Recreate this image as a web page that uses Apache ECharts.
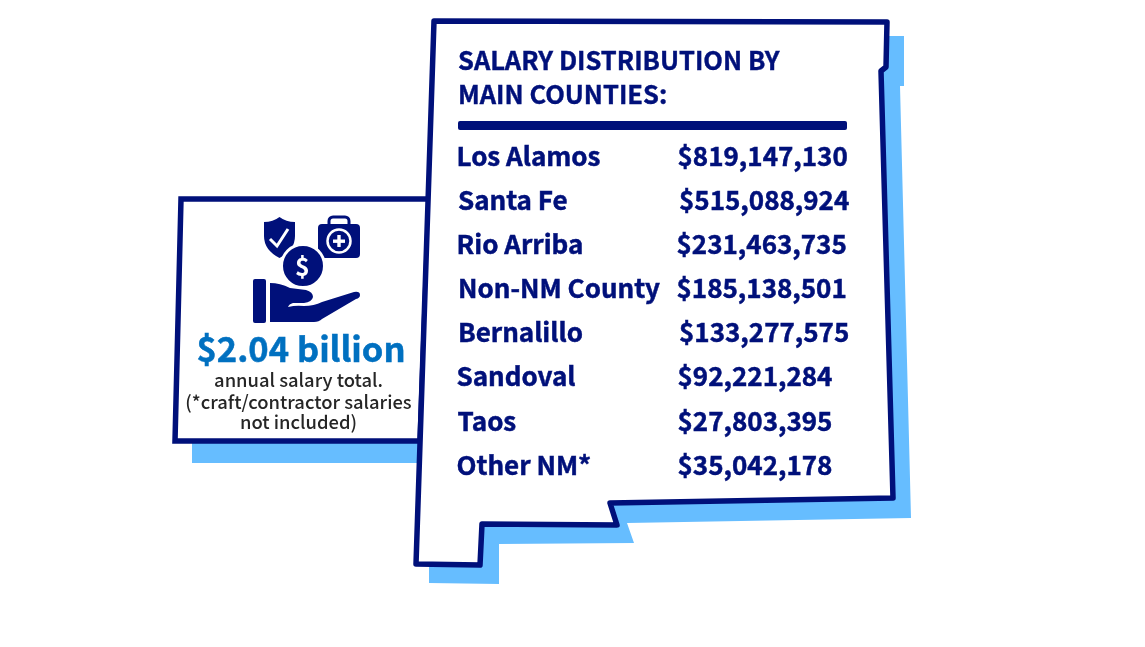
<!DOCTYPE html>
<html>
<head>
<meta charset="utf-8">
<style>
  html, body { margin: 0; padding: 0; background: #fff; }
  #chart { width: 1145px; height: 647px; }
</style>
<script src="https://cdn.jsdelivr.net/npm/echarts@6/dist/echarts.min.js"></script>
</head>
<body>
<div id="chart"></div>
<script>
// table data
const counties = ['Los Alamos', 'Santa Fe', 'Rio Arriba', 'Non-NM County', 'Bernalillo', 'Sandoval', 'Taos', 'Other NM*']
const salaries = [819147130, 515088924, 231463735, 185138501, 133277575, 92221284, 27803395, 35042178]
const titleLines = ['SALARY DISTRIBUTION BY', 'MAIN COUNTIES:']
const totalLabel = '$2.04 billion'
const noteLines = ['annual salary total.', '(*craft/contractor salaries', 'not included)']

// layout of the rows, the source artwork is slightly uneven
const rowY = [156.5, 200.5, 244.5, 288.5, 332.5, 376.5, 421.5, 465.5]
const nameX = [456.5, 458, 456.5, 458, 458, 456.5, 457.5, 456.5]
const valueX = [677.5, 679, 676.5, 676.5, 679, 677.5, 677.5, 677.5]

const NAVY = '#00107a'
const SKY = '#66bdff'
const FONT = '"Noto Sans CJK SC", "Noto Sans", sans-serif'

// state outline
const statePoints = [[434, 21], [887, 22], [886, 67], [881, 71], [893, 498], [610, 503], [617, 525],
  [482, 524], [480, 565], [416, 564]]
const stateShadow = [[860, 36], [904, 36], [904, 86], [900, 86], [911, 518], [627, 523], [634, 543],
  [499, 544], [499, 584], [429, 583], [429, 540]]

// icon outlines, the graphic component only takes registered shapes for svg paths
echarts.graphic.registerShape('shieldIcon', echarts.graphic.extendPath(
  'M264 222 Q273 222 279.5 217 Q286 222 295 222 L295 236 Q295 250 279.5 258 Q264 250 264 236 Z'))
echarts.graphic.registerShape('handIcon', echarts.graphic.extendPath(
  'M270 283 Q280 283 290 288 L306 290 Q313 292 313 297 Q312 302 304 303 L293 303 Q289 304 288 307 Q296 305 304 306 Q314 306 322 302 L354 292 Q360 291 360 295 Q360 298 356 299 L322 319 Q319 322 314 322 L270 322 Z'))

const elements = [
  // shadows first
  { type: 'polygon', z: 1, shape: { points: stateShadow }, style: { fill: SKY } },
  { type: 'rect', z: 1, shape: { x: 192, y: 430, width: 232, height: 33 }, style: { fill: SKY } },

  // side box
  { type: 'polygon', z: 2, shape: { points: [[181, 199], [429, 199], [420, 441], [175, 441]] },
    style: { fill: '#fff', stroke: NAVY, lineWidth: 5.5 } },

  // state
  { type: 'polygon', z: 3, shape: { points: statePoints },
    style: { fill: '#fff', stroke: NAVY, lineWidth: 5.5, lineJoin: 'round' } },
  { type: 'rect', z: 4, shape: { x: 458, y: 121, width: 389, height: 9, r: 2 }, style: { fill: NAVY } }
]

titleLines.forEach((line, i) => {
  elements.push({ type: 'text', z: 5, style: {
    text: line, x: 458, y: 60 + i * 34, fill: NAVY, verticalAlign: 'middle', align: 'left',
    font: `bold 25.5px ${FONT}`, stroke: NAVY, lineWidth: 0.4
  } })
})

counties.forEach((name, i) => {
  elements.push({ type: 'text', z: 5, style: {
    text: name, x: nameX[i], y: rowY[i], fill: NAVY, verticalAlign: 'middle', align: 'left',
    font: `bold 26px ${FONT}`, stroke: NAVY, lineWidth: 0.5
  } })
  elements.push({ type: 'text', z: 5, style: {
    text: '$' + salaries[i].toLocaleString('en-US'), x: valueX[i], y: rowY[i], fill: NAVY,
    verticalAlign: 'middle', align: 'left', font: `bold 26px ${FONT}`, stroke: NAVY, lineWidth: 0.5
  } })
})

// total + note
elements.push({ type: 'text', z: 5, style: {
  text: totalLabel, x: 301, y: 349, fill: '#0070c0', align: 'center', verticalAlign: 'middle',
  font: `bold 34.5px ${FONT}`, stroke: '#0070c0', lineWidth: 0.5
} })
noteLines.forEach((line, i) => {
  elements.push({ type: 'text', z: 5, style: {
    text: line, x: 298.5, y: [380, 402, 422][i], fill: '#262626', align: 'center', verticalAlign: 'middle',
    font: `500 18.4px ${FONT}`
  } })
})

// icon: shield, first aid case, coin, hand
elements.push(
  { type: 'shieldIcon', z: 5, style: { fill: NAVY } },
  { type: 'polyline', z: 6, shape: { points: [[270, 239], [277, 246], [288, 229]] },
    style: { stroke: '#fff', lineWidth: 3, fill: null } },
  { type: 'rect', z: 5, shape: { x: 329, y: 217, width: 20, height: 14, r: 4 },
    style: { fill: null, stroke: NAVY, lineWidth: 3 } },
  { type: 'rect', z: 5, shape: { x: 318, y: 224, width: 42, height: 34, r: 4 }, style: { fill: NAVY } },
  { type: 'circle', z: 6, shape: { cx: 339, cy: 241, r: 11.5 }, style: { fill: NAVY, stroke: '#fff', lineWidth: 2.5 } },
  { type: 'rect', z: 7, shape: { x: 333, y: 239.5, width: 12, height: 3.4 }, style: { fill: '#fff' } },
  { type: 'rect', z: 7, shape: { x: 337.3, y: 235, width: 3.4, height: 12 }, style: { fill: '#fff' } },
  { type: 'rect', z: 5, shape: { x: 253, y: 279, width: 13, height: 44, r: 2 }, style: { fill: NAVY } },
  { type: 'handIcon', z: 5, style: { fill: NAVY } },
  { type: 'circle', z: 6, shape: { cx: 303, cy: 266, r: 21.5 }, style: { fill: NAVY, stroke: '#fff', lineWidth: 3 } },
  { type: 'text', z: 7, style: { text: '$', x: 302.5, y: 266, fill: '#fff', align: 'center', verticalAlign: 'middle',
    font: `bold 25px ${FONT}` } }
)

const chart = echarts.init(document.getElementById('chart'), null, { renderer: 'canvas' })
chart.setOption({
  backgroundColor: '#fff',
  animation: false,
  graphic: { elements }
})
</script>
</body>
</html>
